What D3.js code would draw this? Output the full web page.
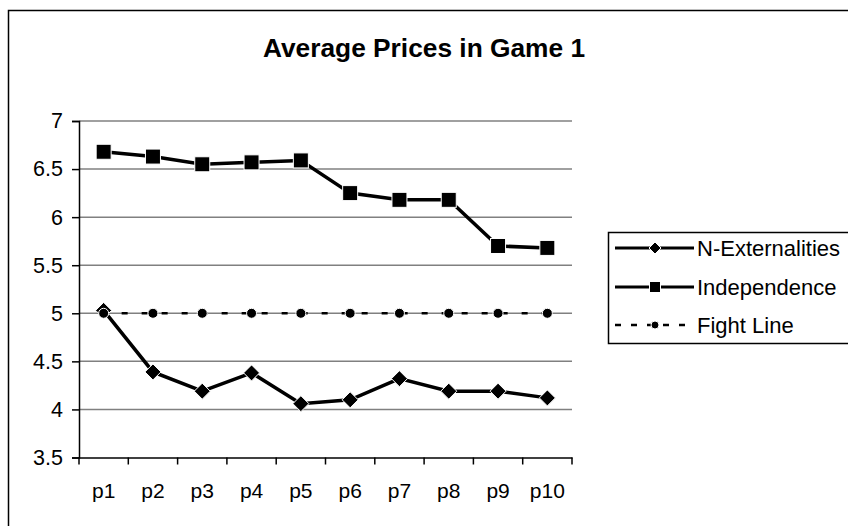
<!DOCTYPE html>
<html><head><meta charset="utf-8">
<script src="https://cdn.jsdelivr.net/npm/d3@7"></script>
<style>body{margin:0;background:#fff}svg{display:block;font-family:Arial,"Liberation Sans",sans-serif}</style>
</head><body>
<svg id="c" width="848" height="526"></svg>
<script>
const categories = ["p1","p2","p3","p4","p5","p6","p7","p8","p9","p10"];
const nExternalities = [5.03, 4.39, 4.19, 4.38, 4.06, 4.10, 4.32, 4.19, 4.19, 4.12];
const independence = [6.68, 6.63, 6.55, 6.57, 6.59, 6.25, 6.18, 6.18, 5.70, 5.68];
const fightLine = [5, 5, 5, 5, 5, 5, 5, 5, 5, 5];
const yTicks = [3.5, 4, 4.5, 5, 5.5, 6, 6.5, 7];
const seriesNames = ["N-Externalities", "Independence", "Fight Line"];
const title = "Average Prices in Game 1";

const svg = d3.select("#c");
const L = 79, R = 572, T = 121, B = 457.5;

svg.append("rect").attr("x",8.5).attr("y",10.5).attr("width",900).attr("height",600)
  .attr("fill","none").attr("stroke","#000").attr("stroke-width",1.5);

svg.append("text").attr("x",424).attr("y",57).attr("text-anchor","middle")
  .attr("font-size",26.3).attr("font-weight","bold").text(title);

const x = d3.scaleBand().domain(categories).range([L,R]).paddingInner(0).paddingOuter(0);
const y = d3.scaleLinear().domain([3.5,7]).range([B,T]);
const cx = d => x(d) + x.bandwidth()/2;

// gridlines
svg.append("g").selectAll("line").data(yTicks.filter(t=>t>3.5)).join("line")
  .attr("x1",L).attr("x2",R).attr("y1",d=>y(d)).attr("y2",d=>y(d))
  .attr("stroke","#808080").attr("stroke-width",1.5);

// y axis
const ya = svg.append("g").attr("transform",`translate(${L},0)`)
  .call(d3.axisLeft(y).tickValues(yTicks).tickSize(7).tickPadding(9).tickFormat(d3.format("")));
ya.select(".domain").attr("stroke","#000").attr("stroke-width",1.5);
ya.selectAll(".tick line").attr("stroke","#000").attr("stroke-width",1.5);
ya.selectAll(".tick text").attr("font-size",21.5).attr("fill","#000").attr("font-family","Arial, 'Liberation Sans', sans-serif");

// x axis
const xa = svg.append("g").attr("transform",`translate(0,${B})`)
  .call(d3.axisBottom(x).tickSize(0).tickPadding(26));
xa.select(".domain").attr("stroke","#000").attr("stroke-width",1.5);
xa.selectAll(".tick text").attr("font-size",21).attr("fill","#000").attr("font-family","Arial, 'Liberation Sans', sans-serif");
const bounds = categories.map(c=>x(c)).concat([R]);
svg.append("g").selectAll("line").data(bounds).join("line")
  .attr("x1",d=>d).attr("x2",d=>d).attr("y1",B).attr("y2",B+7)
  .attr("stroke","#000").attr("stroke-width",1.5);

const line = d3.line().x((d,i)=>cx(categories[i])).y(d=>y(d));

function diamond(g, px, py, s){
  g.append("path").attr("d",`M${px},${py-s}L${px+s},${py}L${px},${py+s}L${px-s},${py}Z`)
    .attr("fill","#000").attr("stroke","#fff").attr("stroke-width",1);
}
function square(g, px, py, s){
  g.append("rect").attr("x",px-s/2).attr("y",py-s/2).attr("width",s).attr("height",s)
    .attr("fill","#000").attr("stroke","#fff").attr("stroke-width",1);
}
function circle(g, px, py, r){
  g.append("circle").attr("cx",px).attr("cy",py).attr("r",r)
    .attr("fill","#000").attr("stroke","#fff").attr("stroke-width",1);
}

// N-Externalities
const g1 = svg.append("g");
g1.append("path").datum(nExternalities).attr("d",line).attr("fill","none").attr("stroke","#000").attr("stroke-width",3.5);
nExternalities.forEach((v,i)=>diamond(g1, cx(categories[i]), y(v), 8));

// Independence
const g2 = svg.append("g");
g2.append("path").datum(independence).attr("d",line).attr("fill","none").attr("stroke","#000").attr("stroke-width",3.5);
independence.forEach((v,i)=>square(g2, cx(categories[i]), y(v), 15));

// Fight line
const g3 = svg.append("g");
g3.append("path").datum(fightLine).attr("d",line).attr("fill","none").attr("stroke","#000")
  .attr("stroke-width",2.5).attr("stroke-dasharray","6,14").attr("stroke-dashoffset",-18);
fightLine.forEach((v,i)=>circle(g3, cx(categories[i]), y(v), 5));

// legend
const lg = svg.append("g");
lg.append("rect").attr("x",608.5).attr("y",232.5).attr("width",300).attr("height",111)
  .attr("fill","#fff").attr("stroke","#000").attr("stroke-width",1.5);
const rows = [248, 287, 325];
const lx1 = 615, lx2 = 694, lmx = 655;
[0,1,2].forEach(i=>{
  const yy = rows[i];
  const ln = lg.append("line").attr("x1",lx1).attr("x2",lx2).attr("y1",yy).attr("y2",yy)
    .attr("stroke","#000").attr("stroke-width", i===2 ? 2.5 : 3);
  if(i===2) ln.attr("stroke-dasharray","6,10");
  if(i===0) diamond(lg, lmx, yy, 6);
  if(i===1) square(lg, lmx, yy, 11);
  if(i===2) circle(lg, lmx, yy, 4);
  lg.append("text").attr("x",697).attr("y",yy+8).attr("font-size",22).text(seriesNames[i]);
});
</script>
</body></html>
